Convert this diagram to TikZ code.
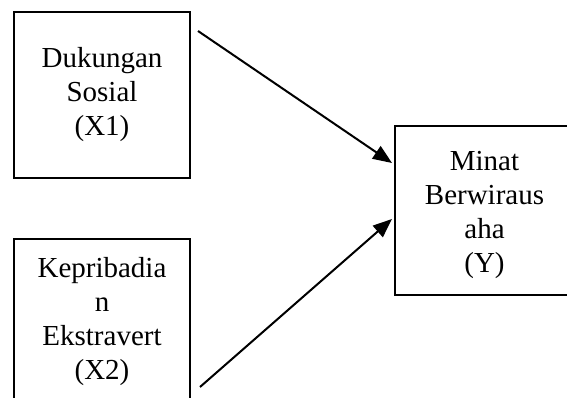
\documentclass[tikz,border=0pt]{standalone}
\usepackage{fontspec}
\setmainfont{Liberation Serif}
\usetikzlibrary{arrows.meta}
\begin{document}
\begin{tikzpicture}[x=1pt,y=-1pt,
  txt/.style={font=\fontsize{29}{34}\selectfont, align=center, inner sep=0pt},
  box/.style={draw=black, line width=2.6pt, rectangle, txt},
  conn/.style={line width=2pt, -{Triangle[length=19pt,width=15pt]}}]
\useasboundingbox (0,0) rectangle (567,398);
\clip (0,0) rectangle (567,398);
\fill[white] (0,0) rectangle (567,398);
\node[box, minimum width=176pt, minimum height=166pt] (x1) at (102,95) {Dukungan\\Sosial\\(X1)};
\node[box, minimum width=176pt, minimum height=175pt] (x2) at (102,326.5) {};
\node[txt] (x2text) at (102,322) {Kepribadia\\n\\Ekstravert\\(X2)};
\node[box, minimum width=180pt, minimum height=169pt] (y) at (485,210.5) {};
\node[txt] (ytext) at (484.5,215) {Minat\\Berwiraus\\aha\\(Y)};
\coordinate (s1) at (198,31);
\coordinate (e1) at (392,163);
\coordinate (s2) at (200,387);
\coordinate (e2) at (392,219);
\draw[conn] (s1) -- (e1);
\draw[conn] (s2) -- (e2);
\end{tikzpicture}
\end{document}
